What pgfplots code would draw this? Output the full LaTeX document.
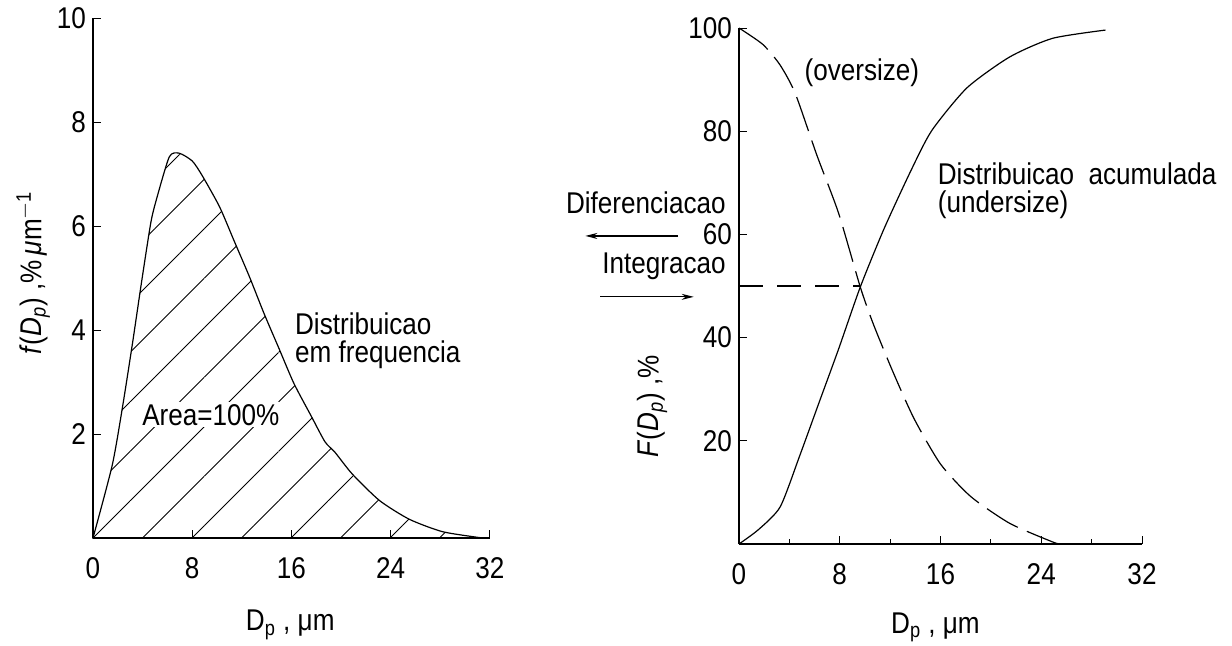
\documentclass[border=0pt]{standalone}
\usepackage{fontspec}
\setmainfont{Liberation Sans}[FakeStretch=0.87]
\usepackage{pgfplots}
\pgfplotsset{compat=1.18}
\usetikzlibrary{patterns.meta,arrows.meta}
\newcommand\fs{\fontsize{15}{14}\selectfont}
\begin{document}
\begin{tikzpicture}[font=\fs]
\useasboundingbox (0,0) rectangle (616pt,322.5pt);
\pgfplotsset{
  myaxis/.style={
    scale only axis,
    axis x line*=bottom, axis y line*=left,
    axis line style={-, line width=0.6pt},
    tick align=inside,
    major tick length=4pt,
    minor tick length=2.5pt,
    tick style={line width=0.5pt, black},
    xmin=0, xmax=32,
    xtick={0,8,16,24,32},
    clip=false,
    /pgf/number format/assume math mode=true,
    tick label style={font=\fs},
    label style={font=\fs},
    xticklabel style={yshift=-6pt},
  }
}
% ---------------- left panel ----------------
\begin{axis}[myaxis, at={(46.5pt,53.5pt)}, anchor=south west,
  width=198.5pt, height=260pt, ymin=0, ymax=10, ytick={2,4,6,8,10},
  xlabel={D\textsubscript{p} , μm},
  xlabel style={at={(axis cs:15.9,-1.67)}, anchor=center},
  ylabel={\textit{f}(\textit{D}\textsubscript{\textit{p}}) ,\%\,\textit{μ}m\textsuperscript{$-$1}},
  ylabel style={at={(axis cs:-4.82,5.1)}, anchor=center}]
\addplot[line width=0.6pt, smooth, tension=0.4,
  pattern={Lines[angle=45,distance=17.5pt,line width=0.5pt,xshift=46.5pt,yshift=53.5pt]}]
  coordinates {(0,0) (1.55,1.4) (2.4,2.55) (3.2,3.77) (3.9,4.9) (4.65,6.05) (5.1,6.5)
  (6.15,7.33) (6.95,7.4) (8.0,7.25) (8.8,6.97) (10.2,6.37) (11.4,5.7) (12.6,5.03)
  (13.8,4.31) (15.0,3.64) (16.2,2.97) (17.6,2.34) (18.7,1.85) (19.5,1.65) (20.9,1.23)
  (23.1,0.72) (25.5,0.36) (28.2,0.12) (31.4,0.0)} \closedcycle;
\node[anchor=north west, align=left, inner sep=1pt] at (axis cs:16.1,4.38) {Distribuicao\\em frequencia};
\node[fill=white, inner sep=1pt] at (axis cs:9.5,2.37) {Area=100\%};
\end{axis}
% ---------------- right panel ----------------
\begin{axis}[myaxis, at={(369.5pt,50.5pt)}, anchor=south west,
  width=201.5pt, height=258pt, ymin=0, ymax=100, ytick={20,40,60,80,100},
  minor xtick={4,12,20,28},
  xlabel={D\textsubscript{p} , μm},
  xlabel style={at={(axis cs:15.6,-16.1)}, anchor=center},
  ylabel={\textit{F}(\textit{D}\textsubscript{\textit{p}}) ,\%},
  ylabel style={at={(axis cs:-6.9,26.7)}, anchor=center}]
\addplot[line width=0.6pt, smooth, tension=0.4] coordinates {
  (0,0) (1.55,2.8) (3.27,7.2) (4.82,17.1) (6.37,27.5) (7.91,37.8) (9.63,49.8)
  (11.5,61.0) (13.6,72.1) (15.3,80.1) (18.1,88.4) (21.5,94.4) (24.9,98.0) (29.1,99.6)};
\addplot[line width=0.6pt, smooth, tension=0.4, dash pattern=on 18pt off 5pt] coordinates {
  (0,100) (1.9,96.8) (3.27,92.8) (4.47,87.3) (6.19,75.3) (7.91,64.1) (9.63,49.8)
  (10.67,42.6) (12.2,33.5) (13.9,24.3) (16.0,15.5) (18.4,9.2) (21.5,4.0) (24.9,0.4) (25.5,0)};
\addplot[line width=0.6pt, dash pattern=on 12pt off 7pt] coordinates {(0,50) (9.63,50)};
\node[inner sep=1pt] at (axis cs:9.76,91.3) {(oversize)};
\node[anchor=north west, align=left, inner sep=1pt] at (axis cs:15.6,74.4) {Distribuicao\ \ acumulada\\(undersize)};
\node[anchor=east, inner sep=1pt] at (axis cs:-0.87,66.1) {Diferenciacao};
\node[anchor=east, inner sep=1pt] at (axis cs:-0.87,53.9) {Integracao};
\draw[-{Stealth[length=6pt,width=3pt]}, line width=0.6pt] (axis cs:-4.84,59.7) -- (axis cs:-12.2,59.7);
\draw[-{Stealth[length=6pt,width=3pt]}, line width=0.6pt] (axis cs:-11.0,47.9) -- (axis cs:-3.6,47.9);
\end{axis}
\end{tikzpicture}
\end{document}
